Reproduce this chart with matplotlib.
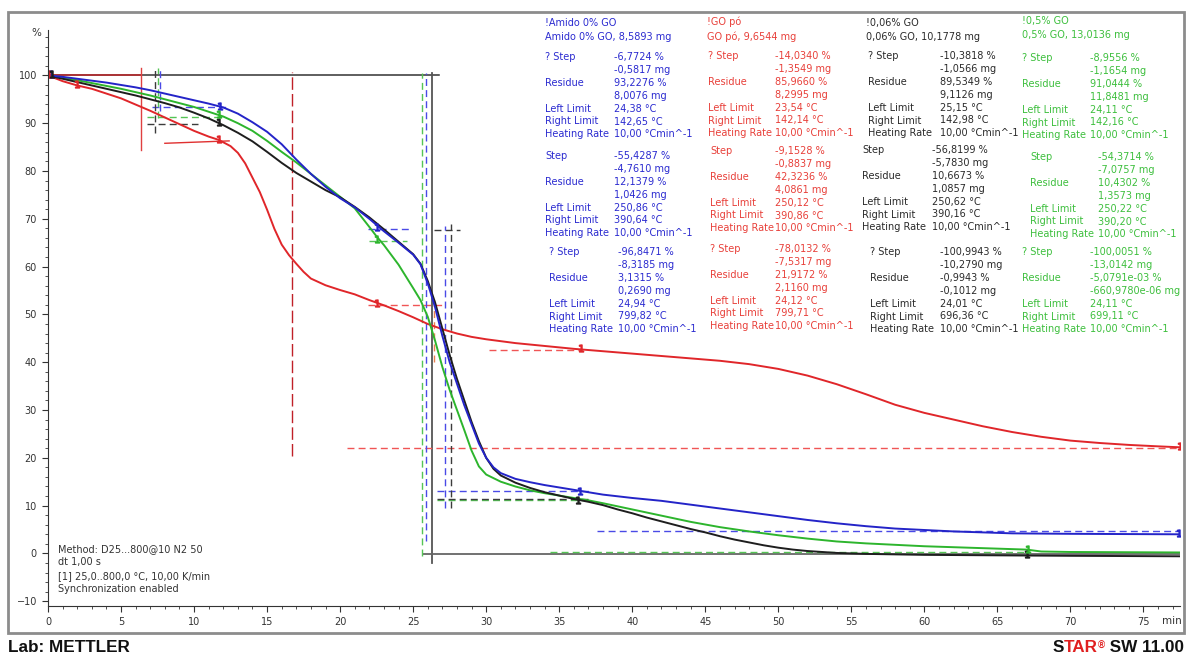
import matplotlib
matplotlib.use("Agg")
import matplotlib.pyplot as plt
from matplotlib.patches import Rectangle
from matplotlib.ticker import MultipleLocator
from matplotlib.offsetbox import TextArea, HPacker, AnchoredOffsetbox

# ---------------- curvas TGA (tiempo en min, masa en %) ----------------
t_go = [0, 0.5, 1, 2, 3, 4, 5, 6, 7, 8, 9, 10, 11, 11.7, 12.5, 13, 13.5, 14, 14.5, 15,
        15.5, 16, 16.5, 17, 17.5, 18, 19, 20, 21, 22, 23, 24, 25, 26, 27, 28, 29, 30,
        32, 34, 36, 38, 40, 42, 44, 46, 48, 50, 52, 54, 56, 58, 60, 62, 64, 66, 68,
        70, 72, 74, 76, 77.5]
w_go = [100, 99.4, 98.8, 97.9, 97.2, 96.2, 95.2, 93.9, 92.6, 91.2, 89.8, 88.4, 87.2, 86.5,
        85.2, 83.8, 81.6, 78.6, 75.6, 71.9, 67.9, 64.6, 62.4, 60.6, 58.9, 57.5, 56.1, 55.1,
        54.2, 53.0, 51.9, 50.7, 49.4, 48.0, 46.9, 46.0, 45.3, 44.8, 44.0, 43.4, 42.8, 42.3,
        41.8, 41.3, 40.8, 40.3, 39.6, 38.6, 37.2, 35.4, 33.3, 31.1, 29.4, 28.0, 26.6, 25.4,
        24.4, 23.6, 23.1, 22.7, 22.4, 22.2]

t_amido = [0, 1, 2, 3, 4, 5, 6, 7, 8, 9, 10, 11, 12, 13, 14, 15, 16, 17, 18, 19, 20, 21,
           22, 23, 24, 25, 25.5, 26, 26.5, 27, 27.5, 28, 28.5, 29, 29.5, 30, 30.5, 31, 32,
           33, 34, 35, 36, 38, 40, 42, 44, 46, 48, 50, 52, 54, 56, 58, 60, 62, 64, 66, 70,
           77.5]
w_amido = [100, 99.7, 99.3, 98.9, 98.5, 98.0, 97.5, 96.9, 96.2, 95.5, 94.8, 94.1, 93.3,
           92.0, 90.2, 88.2, 85.6, 82.4, 79.4, 76.7, 74.3, 72.4, 70.0, 67.4, 65.0, 62.5,
           60.5, 56.5, 51.5, 45.5, 40.0, 35.5, 31.0, 27.0, 23.0, 20.0, 18.0, 16.8, 15.6,
           14.9, 14.3, 13.8, 13.3, 12.3, 11.6, 11.0, 10.2, 9.4, 8.6, 7.8, 7.0, 6.3, 5.7,
           5.2, 4.9, 4.6, 4.4, 4.2, 4.1, 4.0]

t_006 = [0, 1, 2, 3, 4, 5, 6, 7, 8, 9, 10, 11, 12, 13, 14, 15, 16, 17, 18, 19, 20, 21,
         22, 23, 24, 25, 25.5, 26, 26.5, 27, 27.5, 28, 28.5, 29, 29.5, 30, 30.5, 31, 32,
         33, 34, 35, 36, 37, 38, 39, 40, 41, 42, 43, 44, 45, 46, 47, 48, 49, 50, 51, 52,
         53, 54, 56, 60, 65, 70, 77.5]
w_006 = [100, 99.3, 98.6, 97.9, 97.2, 96.5, 95.8, 95.0, 94.2, 93.3, 92.2, 91.0, 89.6, 88.0,
         86.2, 84.0, 81.7, 79.6, 77.8, 76.0, 74.5, 72.5, 70.3, 67.8, 65.2, 62.6, 60.6,
         57.0, 52.5, 47.0, 41.5, 36.5, 32.0, 27.5, 23.5, 20.0, 17.7, 16.3, 14.8, 13.7,
         12.8, 12.1, 11.4, 10.8, 10.1, 9.2, 8.4, 7.5, 6.7, 5.9, 5.1, 4.4, 3.6, 2.9, 2.3,
         1.7, 1.2, 0.8, 0.5, 0.3, 0.1, -0.1, -0.3, -0.4, -0.5, -0.6]

t_05 = [0, 1, 2, 3, 4, 5, 6, 7, 8, 9, 10, 11, 12, 13, 14, 15, 16, 17, 18, 19, 20, 21, 22,
        22.5, 23, 24, 25, 25.5, 26, 26.5, 27, 27.5, 28, 28.5, 29, 29.5, 30, 31, 32, 33, 34,
        35, 36, 37, 38, 40, 42, 44, 46, 48, 50, 52, 54, 56, 58, 60, 62, 64, 66, 67, 68,
        70, 77.5]
w_05 = [100, 99.5, 99.0, 98.4, 97.8, 97.2, 96.5, 95.8, 95.0, 94.2, 93.4, 92.4, 91.4, 90.0,
        88.4, 86.3, 84.0, 81.8, 79.4, 77.0, 74.6, 72.2, 68.3, 66.3, 64.5, 60.4, 55.5, 53.0,
        49.5, 44.5, 39.0, 34.2, 30.0, 25.8, 21.5, 18.2, 16.5, 15.0, 14.0, 13.2, 12.6, 12.1,
        11.6, 11.1, 10.5, 9.2, 7.9, 6.6, 5.5, 4.6, 3.8, 3.1, 2.5, 2.1, 1.8, 1.5, 1.3, 1.1,
        0.9, 0.8, 0.4, 0.3, 0.2]

# ---------------- evaluaciones (nivel, inicio, fin) ----------------
h_blue = [(93.4, 7.1, 12.3), (67.9, 21.9, 24.9), (13.0, 26.6, 37.1), (4.7, 37.6, 77.6)]
h_green = [(91.4, 6.8, 11.6), (65.3, 22.0, 24.6), (11.2, 26.6, 37.0), (0.4, 34.4, 67.0)]
h_black = [(89.8, 6.8, 10.3), (67.7, 26.4, 28.2), (11.3, 26.6, 37.0)]
h_red = [(51.9, 21.9, 27.0), (42.6, 30.2, 36.5), (22.0, 20.5, 77.6)]
# verticales (t, y_abajo, y_arriba)
v_blue = [(7.7, 92.5, 101.5), (25.9, 2.5, 100.5), (27.2, 9.4, 68.5)]
v_green = [(7.5, 91.0, 101.5), (25.6, -0.6, 100.5)]
v_black = [(7.35, 88.0, 101.5), (27.6, 9.4, 69.0)]
v_red = [(16.7, 20.3, 100.8), (26.4, 40.0, 53.0)]

# marcas de paso
mk_blue = [(0.2, 100.3), (11.8, 93.7), (22.5, 68.3), (36.4, 13.0), (77.4, 4.2)]
mk_red = [(0.1, 100.2), (2.0, 98.3), (11.7, 86.7), (22.5, 52.3), (36.5, 42.9), (77.5, 22.5)]
mk_black = [(0.3, 100.2), (11.7, 90.3), (36.3, 11.2), (67.0, -0.2)]
mk_green = [(11.7, 92.0), (22.5, 65.8), (67.1, 0.9)]

# ---------------- textos de resultados ----------------
hdr_blue = ["!Amido 0% GO", "Amido 0% GO, 8,5893 mg"]
res_blue = [["-6,7724 %", "-0,5817 mg", "93,2276 %", "8,0076 mg", "24,38 °C", "142,65 °C"],
            ["-55,4287 %", "-4,7610 mg", "12,1379 %", "1,0426 mg", "250,86 °C", "390,64 °C"],
            ["-96,8471 %", "-8,3185 mg", "3,1315 %", "0,2690 mg", "24,94 °C", "799,82 °C"]]
hdr_red = ["!GO pó", "GO pó, 9,6544 mg"]
res_red = [["-14,0340 %", "-1,3549 mg", "85,9660 %", "8,2995 mg", "23,54 °C", "142,14 °C"],
           ["-9,1528 %", "-0,8837 mg", "42,3236 %", "4,0861 mg", "250,12 °C", "390,86 °C"],
           ["-78,0132 %", "-7,5317 mg", "21,9172 %", "2,1160 mg", "24,12 °C", "799,71 °C"]]
hdr_black = ["!0,06% GO", "0,06% GO, 10,1778 mg"]
res_black = [["-10,3818 %", "-1,0566 mg", "89,5349 %", "9,1126 mg", "25,15 °C", "142,98 °C"],
             ["-56,8199 %", "-5,7830 mg", "10,6673 %", "1,0857 mg", "250,62 °C", "390,16 °C"],
             ["-100,9943 %", "-10,2790 mg", "-0,9943 %", "-0,1012 mg", "24,01 °C", "696,36 °C"]]
hdr_green = ["!0,5% GO", "0,5% GO, 13,0136 mg"]
res_green = [["-8,9556 %", "-1,1654 mg", "91,0444 %", "11,8481 mg", "24,11 °C", "142,16 °C"],
             ["-54,3714 %", "-7,0757 mg", "10,4302 %", "1,3573 mg", "250,22 °C", "390,20 °C"],
             ["-100,0051 %", "-13,0142 mg", "-5,0791e-03 %", "-660,9780e-06 mg", "24,11 °C", "699,11 °C"]]
step_names = ["? Step", "Step", "? Step"]
rate_txt = "10,00 °Cmin^-1"

method_lines = ["Method: D25...800@10 N2 50", "dt 1,00 s",
                "[1] 25,0..800,0 °C, 10,00 K/min", "Synchronization enabled"]

# colores
c_blue, c_red, c_black, c_green = "#2424c8", "#e0262a", "#1e1e1e", "#2db52d"
d_blue, d_red, d_black, d_green = "#4a4ae6", "#f05555", "#3c3c3c", "#55c455"
tx_blue, tx_red, tx_black, tx_green = "#2b2bd0", "#e8403a", "#2a2a2a", "#3dbf3d"

W, H = 1187, 655


def fx(px):
    return px / W


def fy(py):
    return 1 - py / H


plt.rcParams["font.family"] = ["DejaVu Sans"]
fig = plt.figure(figsize=(W / 100, H / 100), dpi=100)
fig.patches.append(Rectangle((fx(8), fy(633)), fx(1184) - fx(8), fy(12) - fy(633),
                             transform=fig.transFigure, fill=False, ec="#8c8c8c", lw=2))

ax = fig.add_axes([fx(48), fy(606), fx(1180) - fx(48), fy(30) - fy(606)])
ax.set_xlim(0, 77.5)
ax.set_ylim(-11, 109.5)
for s in ["top", "right"]:
    ax.spines[s].set_visible(False)
for s in ["left", "bottom"]:
    ax.spines[s].set_color("#333333")
ax.xaxis.set_major_locator(MultipleLocator(5))
ax.xaxis.set_minor_locator(MultipleLocator(1))
ax.yaxis.set_major_locator(MultipleLocator(10))
ax.yaxis.set_minor_locator(MultipleLocator(2))
ax.set_xticks(range(0, 80, 5))
ax.set_yticks(range(-10, 110, 10))
ax.tick_params(which="major", direction="out", length=4, labelsize=7, colors="#333333", pad=4)
ax.tick_params(which="minor", direction="out", length=2.5, colors="#333333")
fig.text(fx(36), fy(33), "%", fontsize=7.5, color="#333333", ha="center", va="center")
fig.text(fx(1172), fy(621), "min", fontsize=7.5, color="#333333", ha="center", va="center")

# lineas de evaluacion
ax.plot([0, 26.8], [100, 100], color="#333333", lw=1.1)
ax.plot([0, 6.4], [100, 100], color="#c0282c", lw=1.1)
ax.plot([6.4, 6.4], [84.5, 101.5], color="#e04040", lw=1.0)
ax.plot([8.0, 12.4], [85.8, 86.3], color="#e03030", lw=1.0)
ax.plot([26.3, 26.3], [-2, 100.5], color="#555555", lw=1.3)
ax.plot([25.7, 77.5], [-0.2, -0.2], color="#666666", lw=1.3)

for lst, col in [(h_blue, d_blue), (h_green, d_green), (h_black, d_black), (h_red, d_red)]:
    for lev, a, b in lst:
        ax.plot([a, b], [lev, lev], color=col, lw=1.0, ls=(0, (5, 3)))
for lst, col in [(v_blue, d_blue), (v_green, d_green), (v_black, d_black)]:
    for t, lo, hi in lst:
        ax.plot([t, t], [lo, hi], color=col, lw=1.0, ls=(0, (5, 3)))
ax.plot([v_red[0][0]] * 2, v_red[0][1:], color="#c02028", lw=1.0, ls=(0, (9, 3)))
ax.plot([v_red[1][0]] * 2, v_red[1][1:], color="#e88050", lw=1.0, ls=(0, (5, 3)))

# curvas
ax.plot(t_go, w_go, color=c_red, lw=1.4)
ax.plot(t_05, w_05, color=c_green, lw=1.4)
ax.plot(t_006, w_006, color=c_black, lw=1.4)
ax.plot(t_amido, w_amido, color=c_blue, lw=1.4)

for lst, col in [(mk_blue, c_blue), (mk_red, c_red), (mk_black, c_black), (mk_green, c_green)]:
    ax.plot([p[0] for p in lst], [p[1] for p in lst], ls="none", marker="$1$",
            ms=5, color=col)

# bloque de metodo
for i, s in enumerate(method_lines):
    fig.text(fx(58), fy(549 + 13.5 * i), s, fontsize=7, color="#333333", va="center")

# bloques de resultados
cols = [
    (hdr_blue, res_blue, tx_blue, 545, [23, 37], [545, 545, 549], [614, 614, 618], [57, 156, 252]),
    (hdr_red, res_red, tx_red, 707, [22, 37], [708, 710, 710], [775, 775, 775], [56, 151, 249]),
    (hdr_black, res_black, tx_black, 866, [23, 37], [868, 862, 870], [940, 932, 940], [56, 150, 252]),
    (hdr_green, res_green, tx_green, 1022, [21, 35], [1022, 1030, 1022], [1090, 1098, 1090], [58, 157, 252]),
]
row_dy = [0, 13, 26, 39, 52, 64.5, 77]
for hdr, res, col, hx, hy, xl, xv, y0 in cols:
    for s, y in zip(hdr, hy):
        fig.text(fx(hx), fy(y), s, fontsize=7, color=col, va="center")
    for k in range(3):
        labels = [step_names[k], "", "Residue", "", "Left Limit", "Right Limit", "Heating Rate"]
        vals = res[k] + [rate_txt]
        for r in range(7):
            y = y0[k] + row_dy[r]
            if labels[r]:
                fig.text(fx(xl[k]), fy(y), labels[r], fontsize=7, color=col, va="center")
            fig.text(fx(xv[k]), fy(y), vals[r], fontsize=7, color=col, va="center")

# pie
fig.text(fx(8), fy(648), "Lab: METTLER", fontsize=12.3, fontweight="bold",
         family="Liberation Sans", va="center", color="#111111")
bold = dict(fontsize=12.3, fontweight="bold", family="Liberation Sans")
parts = [TextArea("S", textprops=dict(color="#111111", **bold)),
         TextArea("TAR", textprops=dict(color="#e02020", **bold)),
         TextArea("®", textprops=dict(color="#e02020", fontsize=7, fontweight="bold",
                                      family="Liberation Sans")),
         TextArea(" SW 11.00", textprops=dict(color="#111111", **bold))]
box = HPacker(children=parts, align="top", pad=0, sep=0)
anch = AnchoredOffsetbox(loc="center right", child=box, pad=0, borderpad=0, frameon=False,
                         bbox_to_anchor=(fx(1184), fy(648)), bbox_transform=fig.transFigure)
fig.add_artist(anch)

fig.savefig("out.png", dpi=100)
